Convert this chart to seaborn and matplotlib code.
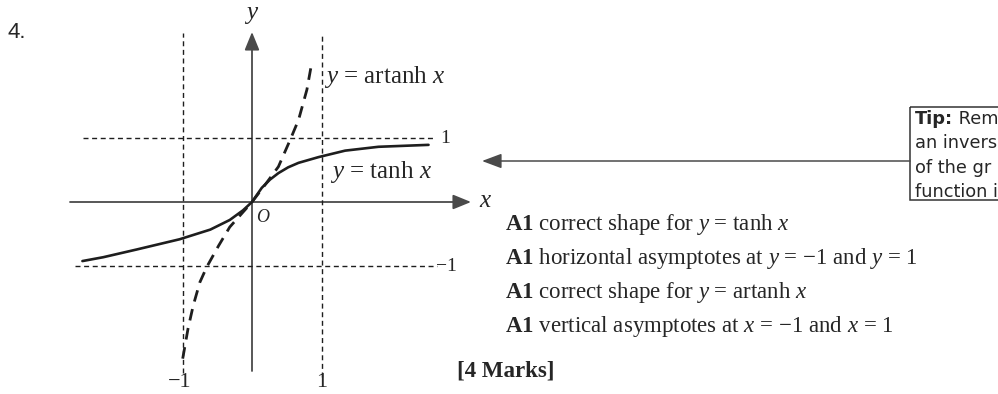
import matplotlib
matplotlib.use("Agg")
import matplotlib.pyplot as plt
import matplotlib.transforms as mtransforms
from matplotlib.patches import Rectangle, FancyArrowPatch
import pandas as pd
import seaborn as sns

# ---- data -----------------------------------------------------------------
TANH_X = [-2.44, -2.14, -1.66, -1.04, -0.60, -0.32, -0.13, 0.0, 0.14, 0.26, 0.38, 0.52, 0.67, 0.96, 1.34, 1.82, 2.54]
TANH_Y = [-0.92, -0.86, -0.74, -0.58, -0.43, -0.28, -0.13, 0.0, 0.22, 0.35, 0.45, 0.54, 0.61, 0.70, 0.80, 0.86, 0.89]

ARTANH_X = [-0.997, -0.92, -0.845, -0.75, -0.65, -0.48, -0.32, 0.0, 0.19, 0.38, 0.55, 0.67, 0.79, 0.86]
ARTANH_Y = [-2.44, -1.97, -1.61, -1.25, -1.01, -0.68, -0.39, 0.0, 0.27, 0.55, 0.97, 1.28, 1.75, 2.17]

ASYMPTOTES = [-1, 1]
MINUS = "\u2212"
ASYMPTOTE_LABELS = [MINUS + "1", "1"]

MARK_LINES = [
    r"$\mathbf{A1}$ correct shape for $y$ = tanh $x$",
    r"$\mathbf{A1}$ horizontal asymptotes at $y$ = " + MINUS + r"1 and $y$ = 1",
    r"$\mathbf{A1}$ correct shape for $y$ = artanh $x$",
    r"$\mathbf{A1}$ vertical asymptotes at $x$ = " + MINUS + r"1 and $x$ = 1",
]
TIP_LINES = ["Rem", "an invers", "of the gr", "function i"]

# ---- figure set-up --------------------------------------------------------
sns.set_theme(style="white")
plt.rcParams["font.family"] = ["Liberation Serif", "DejaVu Serif"]
plt.rcParams["mathtext.fontset"] = "custom"
plt.rcParams["mathtext.rm"] = "Liberation Serif"
plt.rcParams["mathtext.it"] = "Liberation Serif:italic"
plt.rcParams["mathtext.bf"] = "Liberation Serif:bold"

W, H = 998, 394
fig = plt.figure(figsize=(W / 100, H / 100), dpi=100)
fig.patch.set_facecolor("white")
ax = fig.add_axes([0, 0, 1, 1])
ax.axis("off")

# axes geometry: origin and unit lengths in pixels
OX, OY = 252, 202
UX, UY = 69.5, 64.2
ax.set_xlim(-OX / UX, (W - OX) / UX)
ax.set_ylim(-(H - OY) / UY, OY / UY)

# pixel transform (origin top-left) for annotations
pix = mtransforms.Affine2D().scale(1 / W, -1 / H).translate(0, 1) + fig.transFigure

def dx(px):
    return (px - OX) / UX

def dy(py):
    return (OY - py) / UY

AX_COL = "#4a4a4a"
INK = "#1e1e1e"

# coordinate axes with arrowheads
for start, end in [((dx(70), 0), (dx(471), 0)), ((0, dy(371)), (0, dy(32)))]:
    ax.add_patch(FancyArrowPatch(start, end, arrowstyle="-|>,head_length=1.1,head_width=0.45",
                                 mutation_scale=10, lw=1.3, color=AX_COL,
                                 shrinkA=0, shrinkB=0, zorder=2))

# asymptotes
dash_thin = (0, (3.6, 2.6))
ax.plot([ASYMPTOTES[0]] * 2, [dy(373), dy(33)], color=INK, lw=1.0, ls=dash_thin)
ax.plot([ASYMPTOTES[1]] * 2, [dy(377), dy(35)], color=INK, lw=1.0, ls=dash_thin)
ax.plot([dx(83), dx(435)], [ASYMPTOTES[1]] * 2, color=INK, lw=1.0, ls=dash_thin)
ax.plot([dx(75), dx(437)], [ASYMPTOTES[0]] * 2, color=INK, lw=1.0, ls=dash_thin)

# curves
tanh_df = pd.DataFrame({"x": TANH_X, "y": TANH_Y})
artanh_df = pd.DataFrame({"x": ARTANH_X, "y": ARTANH_Y})
sns.lineplot(data=tanh_df, x="x", y="y", ax=ax, color=INK, lw=1.9,
             estimator=None, sort=True, zorder=4)
sns.lineplot(data=artanh_df, x="x", y="y", ax=ax, color=INK, lw=2.0,
             estimator=None, sort=True, linestyle=(0, (4.2, 2.8)), zorder=4)

# labels on the graph
GFS = 18
ax.text(252, 15, r"$y$", transform=pix, fontsize=GFS, ha="center", va="center")
ax.text(486, 201, r"$x$", transform=pix, fontsize=GFS, ha="center", va="center")
ax.text(263, 218, r"$O$", transform=pix, fontsize=13, ha="center", va="center")
ax.text(324, 77, r"$y$ = artanh $x$", transform=pix, fontsize=GFS, ha="left", va="center")
ax.text(330, 172, r"$y$ = tanh $x$", transform=pix, fontsize=GFS, ha="left", va="center")
ax.text(440, 139, ASYMPTOTE_LABELS[1], transform=pix, fontsize=14, ha="left", va="center")
ax.text(436, 267, ASYMPTOTE_LABELS[0], transform=pix, fontsize=14, ha="left", va="center")
for v, lab in zip(ASYMPTOTES, ASYMPTOTE_LABELS):
    ax.text(OX + v * UX - (3 if v < 0 else 0), 383, lab, transform=pix, fontsize=16,
            ha="center", va="center")

# question number
ax.text(8, 32, "4.", transform=pix, fontsize=16, ha="left", va="center",
        family=["Liberation Sans", "DejaVu Sans"])

# mark scheme
FS = 16.5
for i, line in enumerate(MARK_LINES):
    ax.text(505, 225 + i * 34, line, transform=pix, fontsize=FS, ha="left", va="center")
ax.text(457, 371, "[4 Marks]", transform=pix, fontsize=FS, ha="left", va="center",
        fontweight="bold")

# tip box with pointer
ax.add_patch(Rectangle((910, 107), 120, 93, transform=pix, fill=False,
                       lw=1.1, edgecolor="#333333", clip_on=False))
ax.add_patch(FancyArrowPatch((910, 161), (482, 161), transform=pix,
                             arrowstyle="-|>,head_length=1.2,head_width=0.45",
                             mutation_scale=10, lw=1.1, color=AX_COL,
                             shrinkA=0, shrinkB=0))
TIP_FONT = ["DejaVu Sans"]
TIP_FS = 12.8
t0 = ax.text(915, 119, "Tip:", transform=pix, fontsize=TIP_FS, ha="left", va="center",
             fontweight="bold", family=TIP_FONT)
ax.annotate(" " + TIP_LINES[0], xy=(1, 0.5), xycoords=t0, fontsize=TIP_FS, ha="left",
            va="center", family=TIP_FONT)
for i, line in enumerate(TIP_LINES[1:], start=1):
    ax.text(915, 119 + i * 24.5, line, transform=pix, fontsize=TIP_FS, ha="left",
            va="center", family=TIP_FONT)

fig.savefig("out.png", dpi=100, facecolor="white")
